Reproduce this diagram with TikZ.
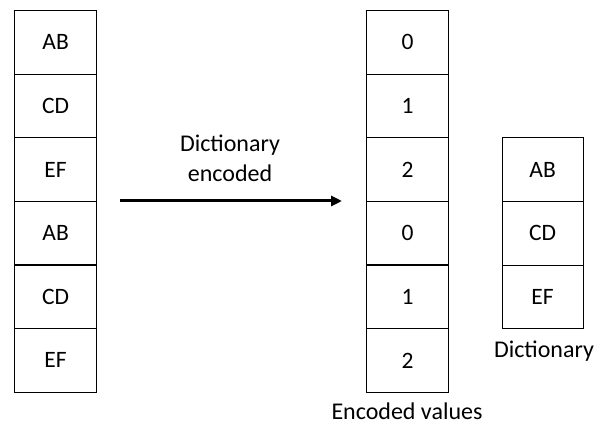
\documentclass[tikz,border=0pt]{standalone}
\usepackage{fontspec}
\setmainfont{Carlito}
\usetikzlibrary{arrows.meta}
\begin{document}
\begin{tikzpicture}[x=1pt,y=-1pt,
  cell/.style={draw=black,line width=1.2pt,minimum width=82pt,minimum height=63.6pt,
    inner sep=0pt,font=\fontsize{23.5}{28}\selectfont,anchor=north west},
  caption/.style={font=\fontsize{24}{30}\selectfont,align=center,inner sep=0pt}]
\useasboundingbox (0,0) rectangle (595,433);
% source column
\foreach \t [count=\i] in {AB,CD,EF,AB,CD,EF}
  \node[cell] (s\i) at (14,{10+63.6*(\i-1)}) {\t};
% encoded column
\foreach \t [count=\i] in {0,1,2,0,1,2}
  \node[cell] (e\i) at (366,{10+63.6*(\i-1)}) {\t};
% dictionary
\foreach \t [count=\i] in {AB,CD,EF}
  \node[cell,minimum width=81pt] (d\i) at (501.5,{137.3+63.6*(\i-1)}) {\t};
% arrow and labels
\coordinate (a1) at (120,201);
\coordinate (a2) at (342,201);
\draw[line width=3pt,-{Triangle[length=11pt,width=10pt]}] (a1) -- (a2);
\node[caption] (lbl) at (230,158) {Dictionary\\encoded};
\node[caption] (dl) at (544,351) {Dictionary};
\node[caption] (el) at (407,411) {Encoded values};
\end{tikzpicture}
\end{document}
